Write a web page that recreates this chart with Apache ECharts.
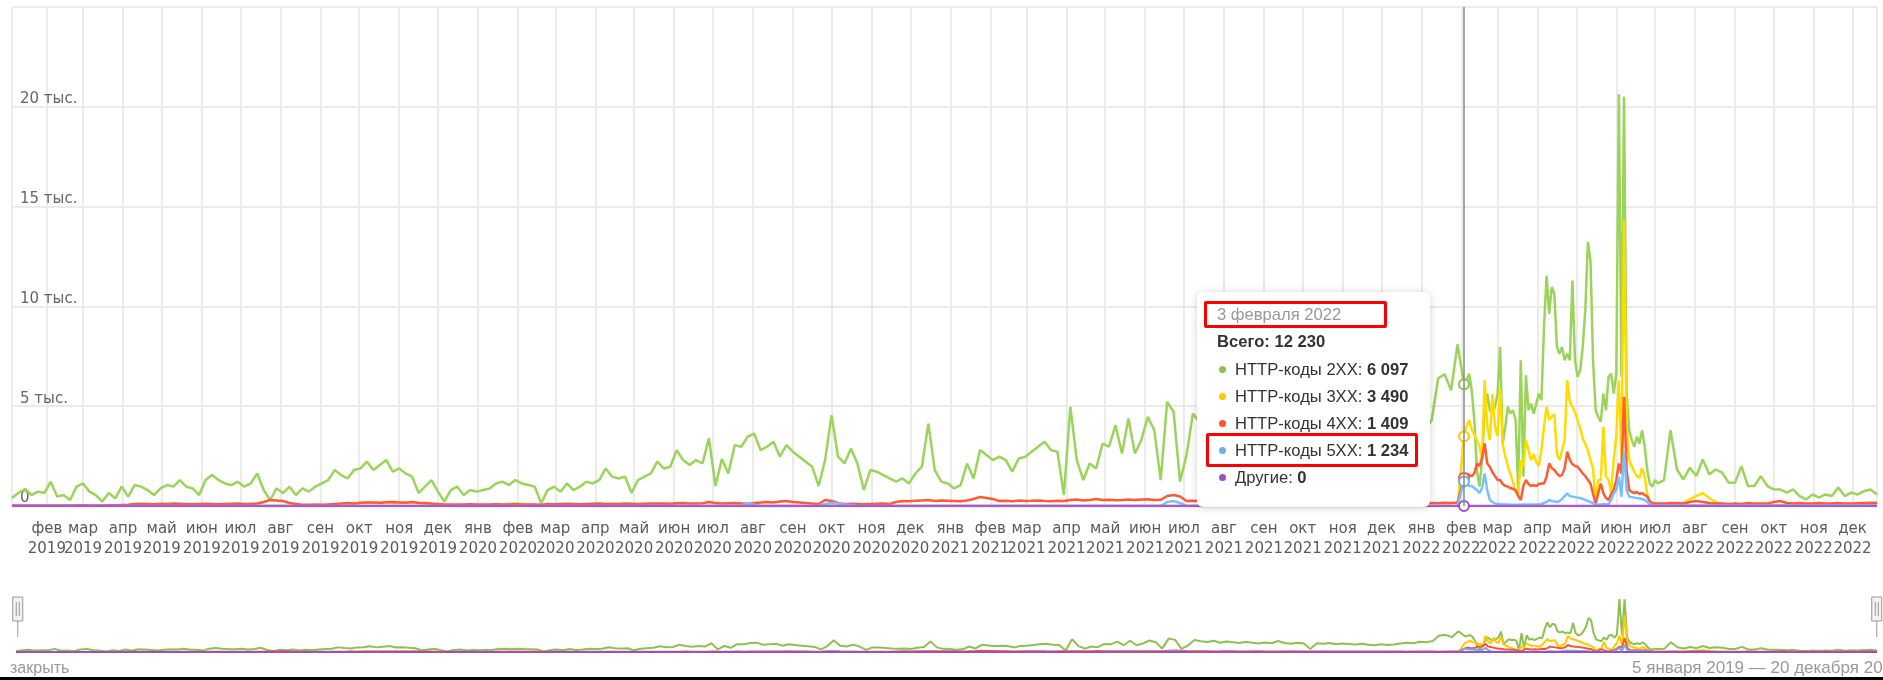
<!DOCTYPE html>
<html>
<head>
<meta charset="utf-8">
<title>HTTP-коды</title>
<script src="https://cdn.jsdelivr.net/npm/echarts@6/dist/echarts.min.js"></script>
<style>
  html, body { margin: 0; padding: 0; background: #fff; }
  #main { width: 1883px; height: 680px; }
</style>
</head>
<body>
<div id="main"></div>
<script>
var monthShort = ['янв', 'фев', 'мар', 'апр', 'май', 'июн', 'июл', 'авг', 'сен', 'окт', 'ноя', 'дек'];
var monthGen = ['января', 'февраля', 'марта', 'апреля', 'мая', 'июня', 'июля', 'августа', 'сентября', 'октября', 'ноября', 'декабря'];

// отсчёты от 5 января 2019: через 5 дней до 3 февраля 2022, через 2 дня до 4 июля 2022, дальше опять через 5
var sampleSteps = [[1125, 5], [1275, 2], [1445, 5]];

var codes2xx = [
  // 5 янв 2019 - 3 фев 2022
  400, 650, 850, 550, 720, 650, 1220, 470, 550, 300,
  970, 1130, 720, 550, 220, 650, 380, 970, 470, 1050,
  970, 800, 550, 880, 1050, 970, 1300, 970, 880, 550,
  1300, 1550, 1300, 1130, 1050, 1220, 970, 1130, 1630, 800,
  300, 880, 650, 970, 550, 880, 720, 970, 1130, 1300,
  1800, 1550, 1380, 1800, 1880, 2220, 1800, 2050, 2300, 1720,
  1880, 1630, 1470, 650, 970, 1300, 720, 220, 800, 970,
  550, 800, 720, 800, 880, 1130, 1220, 1050, 1300, 1130,
  1050, 970, 130, 800, 970, 720, 1130, 800, 970, 1220,
  1130, 1300, 1880, 1470, 1380, 1470, 650, 1300, 1470, 1630,
  2220, 1880, 1970, 2800, 2300, 2050, 2300, 2130, 3400, 1000,
  2350, 1630, 3050, 2970, 3470, 3630, 2800, 2970, 3220, 2470,
  3050, 2720, 2470, 2220, 1970, 1000, 2300, 4550, 2470, 2130,
  2880, 2130, 800, 1800, 1720, 1550, 1380, 1220, 1380, 1130,
  1630, 1970, 4130, 1800, 1220, 1130, 880, 1050, 2130, 1380,
  2800, 2550, 2300, 2470, 2300, 1720, 2380, 2470, 2720, 2970,
  3220, 2800, 2720, 550, 4970, 2300, 1300, 2130, 1880, 3130,
  2970, 4050, 2630, 4380, 2630, 3300, 4470, 3800, 1300, 5220,
  4720, 1220, 2550, 4630, 4200, 3900, 4400, 3600, 4100, 3800,
  3500, 4000, 3600, 3300, 3700, 3400, 4300, 3500, 3200, 3600,
  3300, 1200, 3400, 3200, 3500, 3000, 3300, 3100, 2900, 3200,
  2800, 2600, 3000, 2700, 2900, 3300, 3600, 3400, 4000, 3800,
  4300, 6400, 6600, 5800, 8100, 6097,
  // 5 фев - 4 июл 2022
  6300, 6630, 5800, 4300, 1800, 970, 2300, 4630, 5630, 4800,
  4630, 4970, 5630, 7970, 3130, 3970, 4970, 4630, 4800, 4300,
  800, 7300, 1470, 6550, 4800, 5130, 4630, 5130, 5630, 5300,
  8970, 11550, 9630, 10970, 10630, 7970, 7630, 7970, 7300, 7630,
  7300, 11300, 7300, 6470, 6800, 7970, 9800, 13220, 12300, 7300,
  4800, 4470, 4220, 5630, 4800, 6470, 6630, 5630, 6630, 20630,
  6470, 20500, 5630, 3800, 3300, 2970, 3470, 3130, 3800, 2970,
  1800, 1130, 970, 1300, 1130,
  // июл - 20 дек 2022
  1300, 3800, 1830, 1330, 1920, 1500, 2330, 1580, 1830, 1670,
  1170, 1170, 2000, 1000, 1000, 1500, 1000, 830, 830, 670,
  830, 500, 330, 580, 420, 580, 500, 920, 500, 670,
  580, 750, 830, 580
];

var codes3xx = [
  0, 0, 0, 0, 0, 0, 0, 0, 0, 0,
  0, 0, 0, 0, 0, 0, 0, 0, 0, 0,
  0, 0, 0, 0, 0, 0, 0, 0, 0, 0,
  0, 0, 0, 0, 0, 0, 0, 0, 0, 0,
  0, 0, 0, 0, 0, 0, 0, 0, 0, 0,
  0, 0, 80, 120, 150, 170, 150, 180, 200, 160,
  150, 180, 200, 150, 120, 100, 80, 50, 0, 0,
  0, 0, 0, 0, 0, 60, 80, 100, 120, 100,
  80, 60, 30, 0, 0, 0, 0, 0, 0, 0,
  0, 0, 0, 0, 0, 0, 0, 0, 0, 0,
  0, 0, 0, 0, 0, 0, 0, 0, 0, 0,
  0, 0, 0, 0, 0, 0, 0, 0, 0, 0,
  0, 0, 0, 0, 0, 0, 0, 0, 0, 0,
  0, 0, 0, 0, 0, 0, 0, 0, 0, 0,
  0, 0, 0, 0, 0, 0, 0, 0, 0, 0,
  0, 0, 0, 0, 0, 0, 0, 0, 0, 0,
  0, 0, 0, 0, 0, 0, 0, 0, 0, 0,
  0, 0, 0, 0, 0, 0, 0, 0, 0, 0,
  0, 0, 0, 0, 0, 0, 0, 0, 0, 0,
  0, 0, 0, 0, 0, 0, 0, 0, 0, 0,
  0, 0, 0, 0, 0, 0, 0, 0, 0, 0,
  0, 0, 0, 0, 0, 0, 0, 0, 0, 0,
  0, 0, 0, 0, 0, 3490,
  4000, 4300, 3800, 3600, 3300, 3000, 2300, 6300, 4000, 3300,
  5600, 4000, 3500, 5900, 3100, 2500, 2000, 1600, 1200, 700,
  600, 2300, 1970, 3300, 2800, 2300, 2600, 2200, 2000, 2800,
  3970, 4970, 4300, 4500, 4600, 2600, 2300, 2800, 3300, 6300,
  5200, 5000, 4700, 4300, 3900, 3400, 3100, 2800, 2300, 1900,
  100, 1300, 1300, 3970, 1470, 1300, 700, 2300, 3500, 6300,
  2300, 14300, 3970, 2300, 2000, 1700, 1500, 1400, 1900, 1470,
  600, 200, 150, 100, 100,
  50, 60, 80, 150, 350, 500, 650, 400, 200, 50,
  30, 40, 30, 30, 40, 30, 50, 40, 30, 40,
  30, 30, 40, 30, 40, 30, 30, 40, 30, 30,
  40, 30, 30, 30
];

var codes4xx = [
  20, 20, 30, 30, 30, 20, 30, 30, 20, 30,
  40, 40, 30, 30, 30, 40, 40, 50, 60, 100,
  110, 100, 90, 110, 100, 120, 110, 100, 90, 100,
  110, 100, 90, 100, 110, 120, 100, 110, 130, 200,
  300, 280, 250, 150, 100, 60, 60, 70, 60, 80,
  100, 120, 150, 130, 160, 180, 170, 150, 190, 200,
  180, 160, 200, 150, 150, 120, 100, 80, 80, 70,
  80, 90, 80, 70, 80, 90, 80, 80, 90, 80,
  70, 80, 60, 100, 90, 100, 110, 100, 90, 100,
  110, 120, 100, 110, 100, 120, 110, 100, 110, 120,
  120, 130, 110, 140, 150, 130, 120, 140, 200, 150,
  130, 140, 150, 120, 130, 150, 170, 200, 180, 220,
  250, 200, 180, 150, 120, 100, 300, 250, 150, 100,
  110, 100, 90, 100, 110, 120, 100, 200, 250, 240,
  260, 280, 300, 250, 270, 260, 250, 240, 280, 350,
  450, 400, 350, 250, 260, 240, 270, 250, 260, 280,
  250, 240, 260, 250, 300, 320, 280, 300, 350, 300,
  310, 290, 300, 330, 300, 320, 340, 300, 310, 500,
  550, 480, 250, 260, 250, 260, 240, 250, 270, 260,
  240, 230, 250, 260, 240, 230, 220, 240, 250, 230,
  220, 200, 210, 220, 200, 190, 180, 200, 190, 170,
  180, 160, 170, 150, 160, 150, 140, 150, 160, 150,
  150, 140, 160, 150, 170, 1409,
  1630, 1550, 1500, 1630, 2130, 2000, 2400, 3130, 2130, 1970,
  1700, 1500, 1300, 1300, 1100, 1000, 970, 900, 850, 800,
  500, 300, 1000, 1300, 1100, 1000, 1050, 1000, 1100, 1130,
  1130, 1470, 2130, 1900, 1800, 1630, 1500, 1550, 1900, 2720,
  2300, 2100, 2000, 1970, 1800, 1630, 1500, 1300, 1130, 600,
  130, 630, 1130, 630, 400, 300, 600, 800, 1300, 2130,
  1630, 5470, 1800, 800, 700, 650, 700, 600, 650, 550,
  470, 220, 150, 130, 130,
  130, 150, 150, 120, 200, 250, 200, 150, 130, 120,
  100, 120, 100, 150, 120, 130, 120, 200, 250, 150,
  130, 150, 120, 130, 150, 120, 130, 150, 120, 130,
  140, 150, 160, 150
];

var codes5xx = [
  0, 0, 0, 0, 0, 0, 0, 0, 0, 0,
  0, 0, 0, 0, 0, 0, 0, 0, 0, 0,
  0, 0, 0, 0, 0, 0, 0, 0, 0, 0,
  0, 0, 0, 0, 0, 0, 0, 0, 0, 0,
  0, 0, 0, 0, 0, 0, 0, 0, 0, 0,
  0, 0, 0, 0, 0, 0, 0, 0, 0, 0,
  0, 0, 0, 0, 0, 0, 0, 0, 0, 0,
  0, 0, 0, 0, 0, 0, 0, 0, 0, 0,
  0, 0, 0, 0, 0, 0, 0, 0, 0, 0,
  0, 0, 0, 0, 0, 0, 0, 0, 0, 0,
  0, 0, 0, 0, 0, 0, 0, 0, 0, 0,
  0, 0, 0, 0, 150, 60, 0, 0, 0, 0,
  0, 0, 0, 0, 0, 0, 100, 150, 120, 80,
  50, 0, 0, 0, 0, 0, 0, 0, 0, 0,
  0, 0, 0, 0, 0, 0, 0, 0, 0, 0,
  0, 0, 0, 0, 0, 0, 0, 0, 0, 0,
  0, 0, 0, 0, 0, 0, 0, 0, 0, 0,
  0, 0, 0, 0, 0, 0, 0, 0, 0, 200,
  250, 150, 0, 0, 0, 0, 0, 0, 0, 0,
  0, 0, 0, 0, 0, 0, 0, 0, 0, 0,
  0, 0, 0, 0, 0, 0, 0, 0, 0, 0,
  0, 0, 0, 0, 0, 0, 0, 0, 0, 0,
  0, 0, 0, 0, 0, 1234,
  1100, 1000, 1000, 900, 800, 650, 900, 1630, 800, 300,
  200, 130, 100, 100, 80, 70, 70, 60, 60, 60,
  60, 60, 70, 70, 60, 70, 80, 80, 80, 100,
  150, 200, 300, 250, 220, 200, 250, 350, 500, 630,
  500, 470, 450, 420, 400, 350, 300, 250, 200, 150,
  50, 80, 80, 100, 80, 100, 300, 630, 800, 1470,
  470, 2720, 800, 470, 450, 420, 400, 380, 350, 300,
  200, 80, 40, 30, 20,
  20, 20, 20, 20, 20, 20, 20, 20, 20, 20,
  20, 20, 20, 20, 20, 20, 20, 20, 20, 20,
  20, 20, 20, 20, 20, 20, 20, 20, 20, 20,
  20, 20, 20, 20
];

var otherDates = ['2019-01-05', '2022-02-03', '2022-12-20'];
var otherValues = [0, 0, 0];

function dayTs(n) { return new Date(2019, 0, 5 + n).getTime(); }

var dates = [dayTs(0)];
(function () {
  var d = 0;
  sampleSteps.forEach(function (s) {
    while (d < s[0]) { d += s[1]; dates.push(dayTs(d)); }
  });
})();

function zip(vals) {
  return vals.map(function (v, i) { return [dates[i], v]; });
}

function spaced(n) {
  return String(n).replace(/\B(?=(\d{3})+(?!\d))/g, ' ');
}

var seriesDefs = [
  { name: 'HTTP-коды 2XX', color: '#8cc152', data: zip(codes2xx) },
  { name: 'HTTP-коды 3XX', color: '#ffc800', data: zip(codes3xx) },
  { name: 'HTTP-коды 4XX', color: '#ff5330', data: zip(codes4xx) },
  { name: 'HTTP-коды 5XX', color: '#6db0e8', data: zip(codes5xx) },
  { name: 'Другие', color: '#9c4fc0', data: otherDates.map(function (d, i) { return [d, otherValues[i]]; }) }
];

var series = [];
seriesDefs.forEach(function (s) {
  series.push({
    name: s.name, type: 'line', xAxisIndex: 0, yAxisIndex: 0,
    data: s.data, showSymbol: false, symbol: 'emptyCircle', symbolSize: 9,
    color: s.color,
    lineStyle: { width: 2.5, color: s.color },
    itemStyle: { color: s.color, borderWidth: 2 },
    emphasis: { lineStyle: { width: 2.5 } },
    animation: false
  });
});
// мини-график под навигатором
seriesDefs.forEach(function (s) {
  series.push({
    name: s.name + ' ', type: 'line', xAxisIndex: 1, yAxisIndex: 1,
    data: s.data, showSymbol: false, silent: true,
    lineStyle: { width: 2, color: s.color },
    animation: false
  });
});

var gridColor = '#ebebeb';
var chart = echarts.init(document.getElementById('main'));
chart.setOption({
  animation: false,
  grid: [
    { left: 12, right: 6, top: 7, height: 499, show: true, borderColor: gridColor, borderWidth: 1, containLabel: false },
    { left: 16, right: 6, top: 599, height: 53, containLabel: false }
  ],
  xAxis: [{
    type: 'time', gridIndex: 0,
    min: dayTs(0), max: dayTs(1445),
    splitNumber: 48,
    minInterval: 28 * 86400000,
    maxInterval: 31 * 86400000,
    axisLine: { show: true, lineStyle: { color: '#d8d8d8', width: 1 } },
    axisTick: { show: false },
    axisLabel: {
      color: '#5a5a5a', fontSize: 15, fontFamily: 'DejaVu Sans', lineHeight: 20, margin: 13,
      hideOverlap: false,
      formatter: function (value) {
        var d = new Date(value);
        if (d.getDate() !== 1) return '';
        return monthShort[d.getMonth()] + '\n' + d.getFullYear();
      }
    },
    splitLine: { show: true, lineStyle: { color: gridColor, width: 2 } }
  }, {
    type: 'time', gridIndex: 1, min: dayTs(0), max: dayTs(1445), show: false
  }],
  yAxis: [{
    type: 'value', gridIndex: 0, min: 0, max: 25000, interval: 5000,
    axisLine: { show: false }, axisTick: { show: false },
    axisLabel: {
      inside: true, margin: 8, verticalAlign: 'bottom', padding: [0, 0, 0, 0],
      color: '#666', fontSize: 15, fontFamily: 'DejaVu Sans',
      showMaxLabel: false,
      formatter: function (v) { return v === 0 ? '0' : (v / 1000) + ' тыс.'; }
    },
    splitLine: { lineStyle: { color: gridColor, width: 2 } }
  }, {
    type: 'value', gridIndex: 1, min: 0, max: 'dataMax', show: false
  }],
  dataZoom: [{
    type: 'slider', xAxisIndex: 0, filterMode: 'none',
    left: 16, right: 6, top: 597, height: 40,
    start: 0, end: 100,
    showDetail: false, showDataShadow: false,
    backgroundColor: 'rgba(0,0,0,0)', borderColor: 'rgba(0,0,0,0)',
    fillerColor: 'rgba(0,0,0,0)',
    handleIcon: 'path://M5,0V16M0,16h10v24h-10zM3.5,21v14M6.5,21v14',
    handleSize: '100%',
    handleStyle: { color: '#f2f2f2', borderColor: '#999', borderWidth: 1 },
    moveHandleSize: 0, brushSelect: false
  }],
  tooltip: {
    trigger: 'axis',
    triggerOn: 'none',
    alwaysShowContent: true,
    transitionDuration: 0,
    position: [1197, 292],
    backgroundColor: '#fff',
    borderWidth: 0,
    borderRadius: 6,
    padding: [9, 12, 16, 7],
    extraCssText: 'box-shadow: 0 1px 8px rgba(0,0,0,0.18);',
    textStyle: { color: '#333', fontSize: 16.6, fontFamily: 'Liberation Sans, Arial, sans-serif' },
    axisPointer: { type: 'line', lineStyle: { color: '#888', width: 1.5, type: 'solid' }, label: { show: false } },
    formatter: function (params) {
      var d = new Date(params[0].axisValue);
      var total = 0;
      params.forEach(function (p) { total += p.value[1]; });
      var html = '<div style="width:214px;font-family:\'Liberation Sans\',Arial,sans-serif;font-size:16.6px;color:#333;">';
      html += '<div style="box-sizing:border-box;width:183px;height:27px;border:3px solid #f00;border-radius:2px;color:#999;padding-left:10px;line-height:21px;">' +
        d.getDate() + ' ' + monthGen[d.getMonth()] + ' ' + d.getFullYear() + '</div>';
      html += '<div style="height:28px;line-height:28px;padding-left:13px;font-weight:bold;">Всего: ' + spaced(total) + '</div>';
      params.forEach(function (p) {
        var box = p.seriesName === 'HTTP-коды 5XX'
          ? '<span style="position:absolute;left:2px;top:-4px;width:212px;height:34px;box-sizing:border-box;border:3px solid #f00;border-radius:2px;"></span>'
          : '';
        html += '<div style="position:relative;height:27px;line-height:27px;padding-left:31px;white-space:nowrap;">' + box +
          '<span style="position:absolute;left:15px;top:10px;width:7px;height:7px;border-radius:50%;background:' + p.color + ';"></span>' +
          p.seriesName + ': <b>' + spaced(p.value[1]) + '</b></div>';
      });
      html += '</div>';
      return html;
    }
  },
  graphic: [
    { type: 'text', left: 10, top: 661, style: { text: 'закрыть', fill: '#999', font: '16px "Liberation Sans", Arial' } },
    { type: 'text', left: 1632, top: 660, style: { text: '5 января 2019 — 20 декабря 2022', fill: '#999', font: '17px "Liberation Sans", Arial' } },
    { type: 'rect', left: 0, top: 677, shape: { width: 1883, height: 3 }, style: { fill: '#000' } }
  ],
  series: series
});

chart.dispatchAction({ type: 'showTip', seriesIndex: 0, dataIndex: 225 });
</script>
</body>
</html>
